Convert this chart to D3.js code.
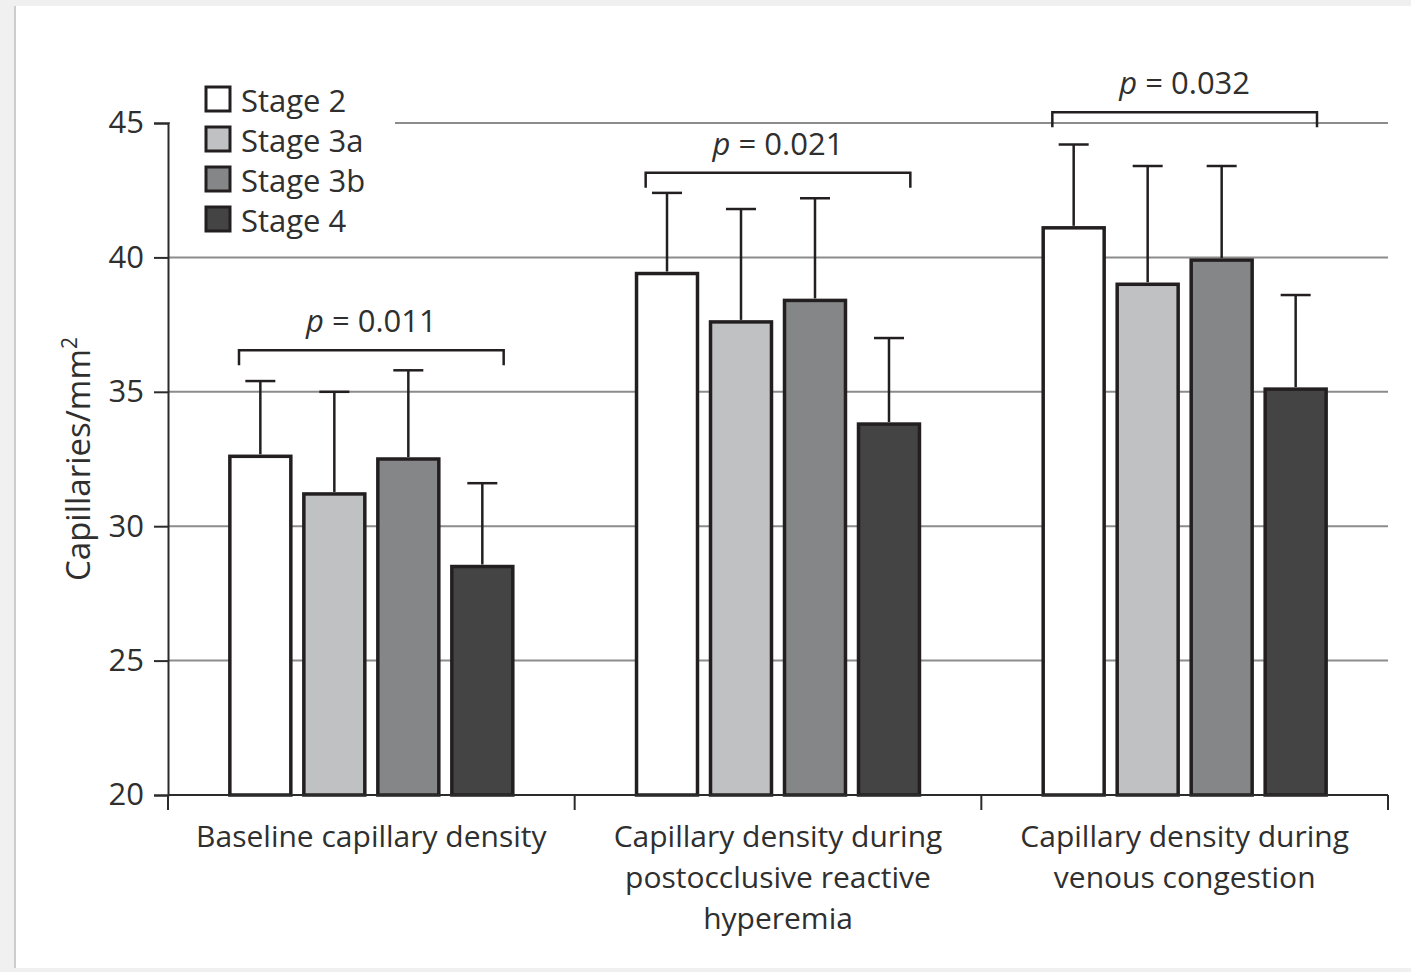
<!DOCTYPE html>
<html>
  <head>
    <meta charset="utf-8">
    <title>Capillary density by stage</title>
    <script src="https://d3js.org/d3.v7.min.js"></script>
    <style>
      body { margin: 0; background: #f0f0f0; }
      #chart { display: block; font-family: "Open Sans", sans-serif; }
      .label { fill: #2f2f2f; }
      .grid line { stroke: #8c8c8c; stroke-width: 2px; }
      .axis path, .axis line { stroke: #2b2b2b; stroke-width: 2px; }
      .axis text { fill: #2f2f2f; font-size: 31px; font-family: "Open Sans", sans-serif; }
    </style>
  </head>
  <body>
    <svg id="chart" width="1411" height="972">
      <rect id="card"></rect>
      <line id="cardEdge"></line>
      <g id="gridGroup" class="grid"></g>
      <g id="barGroup"></g>
      <g id="errorGroup"></g>
      <g id="pGroup"></g>
      <g id="legendGroup"></g>
      <g id="yAxisGroup" class="axis"></g>
      <g id="xAxisGroup" class="axis"></g>
      <text id="yLabel" class="label"></text>
    </svg>
    <script>
      // data
      groups = [
        ["Baseline capillary density"],
        ["Capillary density during", "postocclusive reactive", "hyperemia"],
        ["Capillary density during", "venous congestion"]
      ];
      stages = ["Stage 2", "Stage 3a", "Stage 3b", "Stage 4"];
      stage2 = [32.6, 39.4, 41.1];
      stage3a = [31.2, 37.6, 39.0];
      stage3b = [32.5, 38.4, 39.9];
      stage4 = [28.5, 33.8, 35.1];
      stage2Sd = [2.8, 3.0, 3.1];
      stage3aSd = [3.8, 4.2, 4.4];
      stage3bSd = [3.3, 3.8, 3.5];
      stage4Sd = [3.1, 3.2, 3.5];
      pValues = ["0.011", "0.021", "0.032"];
      pLevels = [36.55, 43.15, 45.4];
      yTicks = [20, 25, 30, 35, 40, 45];
      colours = ["#ffffff", "#c0c1c3", "#858688", "#444444"];

      means = [stage2, stage3a, stage3b, stage4];
      sds = [stage2Sd, stage3aSd, stage3bSd, stage4Sd];
      barData = [];
      groups.forEach(function(g, gi) {
        stages.forEach(function(s, si) {
          barData.push({ group: gi, stage: s, value: means[si][gi], sd: sds[si][gi] });
        });
      });

      // name page elements
      chart = d3.select("#chart");
      margin = { top: 123, right: 23, bottom: 177, left: 168 };
      width = 1411;
      height = 972;

      chart.select("#card")
        .attr("x", 16).attr("y", 6)
        .attr("width", width - 16).attr("height", 962)
        .attr("fill", "#ffffff");
      chart.select("#cardEdge")
        .attr("x1", 15).attr("x2", 15).attr("y1", 6).attr("y2", 968)
        .attr("stroke", "#cdcdcd").attr("stroke-width", 2);

      // scales
      y = d3.scaleLinear()
        .domain([20, 45])
        .range([height - margin.bottom, margin.top]);
      x0 = d3.scaleBand()
        .domain(d3.range(groups.length))
        .range([margin.left, width - margin.right])
        .padding(0);
      x1 = d3.scaleBand()
        .domain(stages)
        .range([0, x0.bandwidth()])
        .paddingInner(0.176)
        .paddingOuter(0.836);
      colour = d3.scaleOrdinal()
        .domain(stages)
        .range(colours);

      // gridlines
      chart.select("#gridGroup").selectAll("line")
        .data(yTicks.slice(1))
        .enter().append("line")
          .attr("x1", margin.left)
          .attr("x2", width - margin.right)
          .attr("y1", function(d) { return y(d); })
          .attr("y2", function(d) { return y(d); });

      // bars
      chart.select("#barGroup").selectAll("rect")
        .data(barData)
        .enter().append("rect")
          .attr("x", function(d) { return x0(d.group) + x1(d.stage); })
          .attr("width", x1.bandwidth())
          .attr("y", function(d) { return y(d.value); })
          .attr("height", function(d) { return y(20) - y(d.value); })
          .attr("fill", function(d) { return colour(d.stage); })
          .attr("stroke", "#231f20")
          .attr("stroke-width", 3.5);

      // error bars
      errors = chart.select("#errorGroup").selectAll("g")
        .data(barData)
        .enter().append("g")
          .attr("transform", function(d) { return "translate(" + (x0(d.group) + x1(d.stage) + x1.bandwidth() / 2) + ",0)"; })
          .attr("stroke", "#231f20")
          .attr("stroke-width", 2.5);
      errors.append("line")
        .attr("y1", function(d) { return y(d.value) - 2; })
        .attr("y2", function(d) { return y(d.value + d.sd); });
      errors.append("line")
        .attr("x1", -15).attr("x2", 15)
        .attr("y1", function(d) { return y(d.value + d.sd); })
        .attr("y2", function(d) { return y(d.value + d.sd); });

      // p value brackets
      pG = chart.select("#pGroup").selectAll("g")
        .data(pValues)
        .enter().append("g")
          .attr("transform", function(d, i) { return "translate(" + (x0(i) + x0.bandwidth() / 2) + "," + y(pLevels[i]) + ")"; });
      pG.append("path")
        .attr("d", function() {
          var half = x0.bandwidth() / 2 - 71;
          return "M" + (-half) + ",15V0H" + half + "V15";
        })
        .attr("fill", "none")
        .attr("stroke", "#231f20")
        .attr("stroke-width", 2.5);
      pText = pG.append("text")
        .attr("class", "label")
        .attr("y", -18)
        .attr("text-anchor", "middle")
        .style("font-size", "31px");
      pText.append("tspan")
        .style("font-style", "italic")
        .text("p");
      pText.append("tspan")
        .text(function(d) { return " = " + d; });

      // legend
      legend = chart.select("#legendGroup");
      legend.append("rect")
        .attr("x", margin.left + 2).attr("y", 78)
        .attr("width", 225).attr("height", 165)
        .attr("fill", "#ffffff");
      legendRows = legend.selectAll("g")
        .data(stages)
        .enter().append("g")
          .attr("transform", function(d, i) { return "translate(206," + (87 + i * 40) + ")"; });
      legendRows.append("rect")
        .attr("width", 24).attr("height", 24)
        .attr("fill", function(d) { return colour(d); })
        .attr("stroke", "#231f20")
        .attr("stroke-width", 3);
      legendRows.append("text")
        .attr("class", "label")
        .attr("x", 35)
        .attr("y", 25)
        .style("font-size", "31px")
        .text(function(d) { return d; });

      // y axis
      yAxis = d3.axisLeft(y)
        .tickValues(yTicks)
        .tickSize(14)
        .tickPadding(10);
      chart.select("#yAxisGroup")
        .attr("transform", "translate(" + margin.left + ",0)")
        .call(yAxis);

      // x axis (category bands with boundary ticks)
      xAxisGroup = chart.select("#xAxisGroup");
      xAxisGroup.append("line")
        .attr("x1", margin.left)
        .attr("x2", width - margin.right)
        .attr("y1", y(20)).attr("y2", y(20));
      xAxisGroup.selectAll(".boundary")
        .data(d3.range(groups.length + 1))
        .enter().append("line")
          .attr("class", "boundary")
          .attr("x1", function(d) { return d < groups.length ? x0(d) : x0.range()[1]; })
          .attr("x2", function(d) { return d < groups.length ? x0(d) : x0.range()[1]; })
          .attr("y1", y(20))
          .attr("y2", y(20) + 15);
      catLabels = xAxisGroup.selectAll(".cat")
        .data(groups)
        .enter().append("text")
          .attr("class", "cat")
          .attr("text-anchor", "middle")
          .style("font-size", "30px")
          .attr("transform", function(d, i) { return "translate(" + (x0(i) + x0.bandwidth() / 2) + "," + (y(20) + 52) + ")"; });
      catLabels.selectAll("tspan")
        .data(function(d) { return d; })
        .enter().append("tspan")
          .attr("x", 0)
          .attr("y", function(d, i) { return i * 41; })
          .text(function(d) { return d; });

      // y label
      yLabel = chart.select("#yLabel")
        .attr("text-anchor", "middle")
        .attr("transform", "translate(90," + ((y(20) + y(45)) / 2) + ") rotate(-90)")
        .style("font-size", "33px");
      yLabel.append("tspan").text("Capillaries/mm");
      yLabel.append("tspan")
        .attr("dy", -13)
        .style("font-size", "21px")
        .text("2");
    </script>
  </body>
</html>
